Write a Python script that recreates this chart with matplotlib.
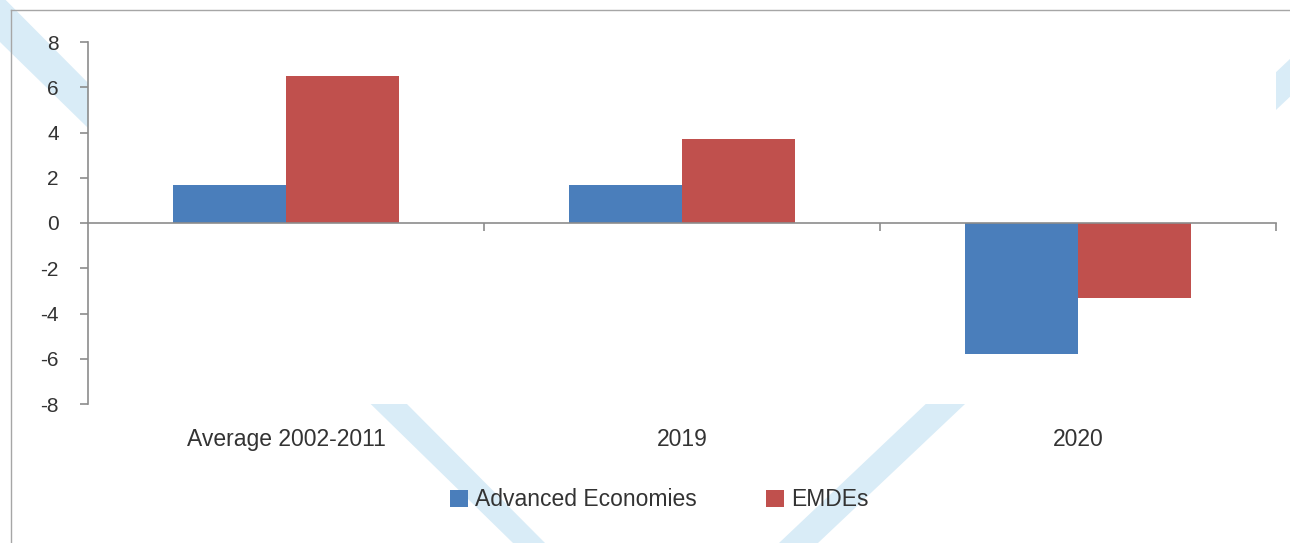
import matplotlib
matplotlib.use("Agg")
import matplotlib.pyplot as plt
import numpy as np
from matplotlib.patches import Polygon, Patch
from matplotlib.lines import Line2D

plt.rcParams["font.family"] = ["Liberation Sans", "DejaVu Sans"]

categories = ["Average 2002-2011", "2019", "2020"]
advanced = [1.7, 1.7, -5.8]
emdes = [6.5, 3.7, -3.3]
series_names = ["Advanced Economies", "EMDEs"]
yticks = [-8, -6, -4, -2, 0, 2, 4, 6, 8]

W, H = 1290, 543
blue = "#4a7ebb"
red = "#c0504d"
grey = "#8c8c8c"
txt = "#333333"
wm = "#d9ecf7"


def px(x, y):
    # pixel coords (origin top-left) -> figure fraction
    return (x / W, 1 - y / H)


fig = plt.figure(figsize=(W / 100, H / 100), dpi=100)
fig.patch.set_facecolor("white")

# light blue watermark stripes behind the plot area
for pts in ([(-84, -40), (-34, -40), (545, 543), (513, 543)],
            [(779, 543), (818, 543), (1350, 40), (1310, 40)]):
    fig.patches.append(Polygon([px(*p) for p in pts], closed=True,
                               transform=fig.transFigure, facecolor=wm,
                               edgecolor="none", zorder=-2))

# outer frame (top and left edges visible)
fig.lines.append(Line2D([px(11, 10)[0], 1.0], [px(11, 10)[1]] * 2,
                        transform=fig.transFigure, color="#a6a6a6", lw=1.0, zorder=-1))
fig.lines.append(Line2D([px(11, 10)[0]] * 2, [px(11, 10)[1], 0.0],
                        transform=fig.transFigure, color="#a6a6a6", lw=1.0, zorder=-1))

ax = fig.add_axes([88 / W, (H - 404) / H, (1276 - 88) / W, (404 - 42) / H])
ax.set_facecolor("white")

x = np.arange(len(categories))
w = 113 / 396
ax.bar(x - w / 2, advanced, w, color=blue, label=series_names[0], zorder=2)
ax.bar(x + w / 2, emdes, w, color=red, label=series_names[1], zorder=2)

ax.set_xlim(-0.5, len(categories) - 0.5)
ax.set_ylim(-8, 8)
ax.set_yticks(yticks)
ax.set_yticklabels([str(v) for v in yticks])

for s in ("top", "right"):
    ax.spines[s].set_visible(False)
ax.spines["left"].set_color(grey)
ax.spines["left"].set_linewidth(1.2)
ax.spines["bottom"].set_position(("data", 0))
ax.spines["bottom"].set_color(grey)
ax.spines["bottom"].set_linewidth(1.2)
ax.spines["bottom"].set_zorder(3)

ax.set_xticks(x[:-1] + 0.5)
ax.set_xticks(list(x + 0.5))
ax.set_xticklabels([])
ax.tick_params(axis="x", direction="out", length=6, width=1.2, color=grey)
ax.tick_params(axis="y", direction="out", length=6, width=1.2, color=grey,
               labelsize=15, labelcolor=txt, pad=15)

sec = ax.secondary_xaxis(0.0)
sec.set_xticks(x)
sec.set_xticklabels(categories)
sec.tick_params(length=0, pad=17, labelsize=16.5, labelcolor=txt)
sec.spines["bottom"].set_visible(False)

handles = [Patch(facecolor=blue), Patch(facecolor=red)]
fig.legend(handles, series_names, loc="center", bbox_to_anchor=(659 / W, 43 / H),
           ncol=2, frameon=False, fontsize=16.5, labelcolor=txt,
           handlelength=0.8, handleheight=0.8, handletextpad=0.3,
           columnspacing=3.0)

fig.savefig("out.png", dpi=100)
